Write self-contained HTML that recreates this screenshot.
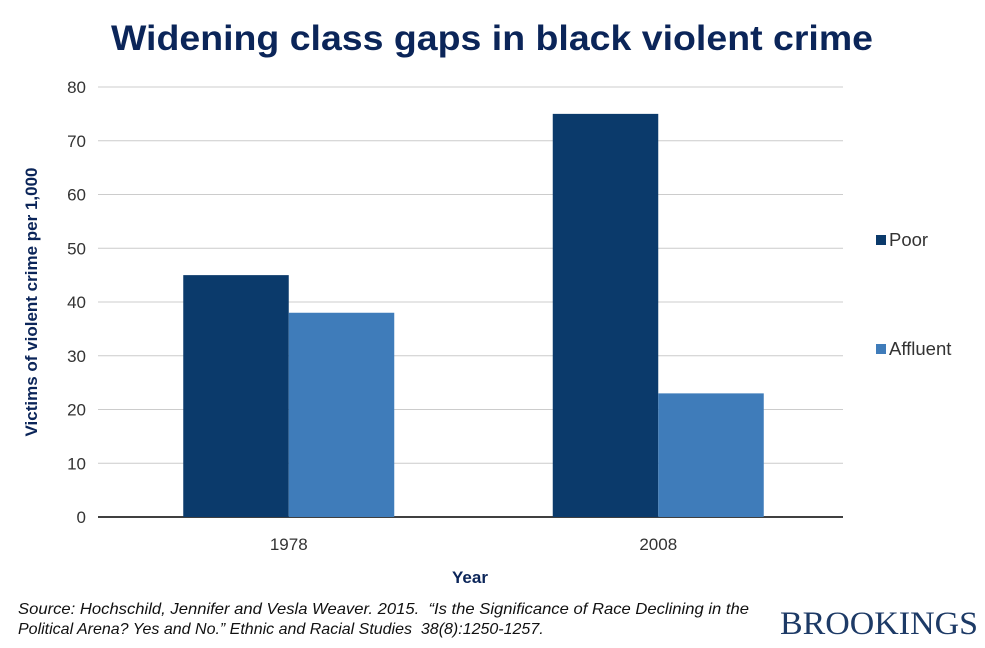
<!DOCTYPE html>
<html><head><meta charset="utf-8"><style>
body{margin:0;background:#fff;width:985px;height:643px;overflow:hidden;font-family:"Liberation Sans",sans-serif}
</style></head><body>
<svg width="985" height="643">
<text x="492" y="50" text-anchor="middle" font-size="35" font-weight="bold" fill="#0b2559" textLength="762" lengthAdjust="spacingAndGlyphs">Widening class gaps in black violent crime</text>
<g id="grid"></g><g id="bars"></g><g id="labels"></g>
<text transform="translate(37,302) rotate(-90)" text-anchor="middle" font-size="17" font-weight="bold" fill="#0b2559">Victims of violent crime per 1,000</text>
<text x="470" y="583" text-anchor="middle" font-size="17" font-weight="bold" fill="#0b2559">Year</text>
<g>
<rect x="876" y="235" width="10" height="10" fill="#0b3a6b"/>
<text x="889" y="246" font-size="18.5" fill="#333">Poor</text>
<rect x="876" y="344" width="10" height="10" fill="#3f7cba"/>
<text x="889" y="355" font-size="18.5" fill="#333">Affluent</text>
</g>
<text x="18" y="614" font-size="16" font-style="italic" fill="#111" textLength="731" lengthAdjust="spacingAndGlyphs">Source: Hochschild, Jennifer and Vesla Weaver. 2015.&#160; “Is the Significance of Race Declining in the</text>
<text x="18" y="634" font-size="16" font-style="italic" fill="#111">Political Arena? Yes and No.” Ethnic and Racial Studies&#160; 38(8):1250-1257.</text>
<text x="780" y="634" font-family="Liberation Serif,serif" font-size="33" fill="#1d3a66" textLength="198" lengthAdjust="spacingAndGlyphs">BROOKINGS</text>
</svg>
<script>
const categories=["1978","2008"];
const poorValues=[45,75];
const affluentValues=[38,23];
const yTicks=[0,10,20,30,40,50,60,70,80];
const NS="http://www.w3.org/2000/svg";
const y0=517,yMax=80,yTop=87,xL=98,xR=843,bandL=104,bandW=369.5,barW=105.5;
const y=v=>y0-(v/yMax)*(y0-yTop);
function mk(t,a,p){const e=document.createElementNS(NS,t);for(const k in a)e.setAttribute(k,a[k]);p.appendChild(e);return e;}
const grid=document.getElementById('grid'),bars=document.getElementById('bars'),labels=document.getElementById('labels');
yTicks.forEach(t=>{
 const l=mk('line',{x1:xL,x2:xR,y1:y(t),y2:y(t),stroke:t===0?'#000':'#ccc','stroke-width':t===0?1.5:1},grid);
 
 
 const tx=mk('text',{x:86,y:y(t)+6,'text-anchor':'end','font-size':17,fill:'#333'},labels);
 tx.textContent=t;
 
 
});
categories.forEach((c,i)=>{
 const cx=bandL+bandW*(i+0.5);
 const b1=mk('rect',{x:cx-barW,y:y(poorValues[i]),width:barW,height:y0-y(poorValues[i]),fill:'#0b3a6b'},bars);
 
 
 const b2=mk('rect',{x:cx,y:y(affluentValues[i]),width:barW,height:y0-y(affluentValues[i]),fill:'#3f7cba'},bars);
 
 
 const tx=mk('text',{x:cx,y:550,'text-anchor':'middle','font-size':17,fill:'#333'},labels);
 tx.textContent=c;
 
 
});
</script>
</body></html>
